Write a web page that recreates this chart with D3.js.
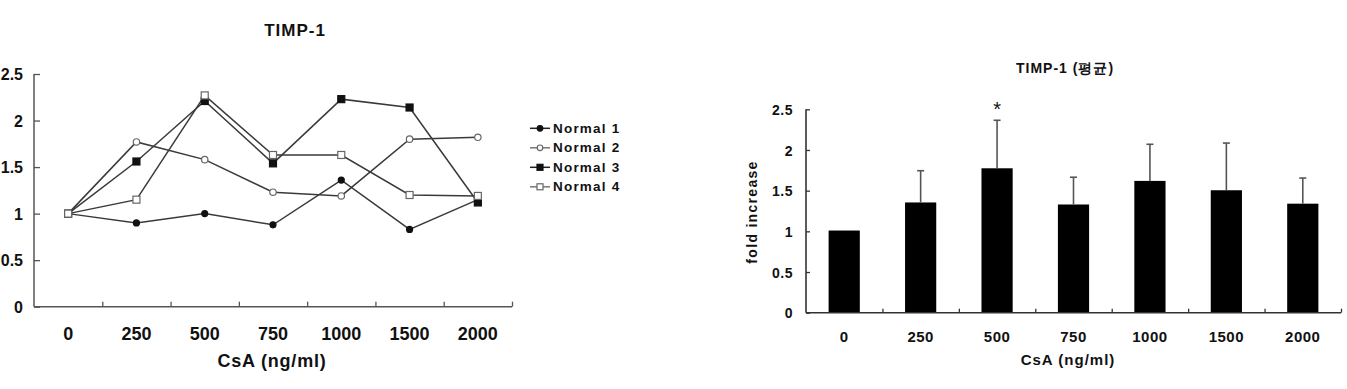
<!DOCTYPE html>
<html>
<head>
<meta charset="utf-8">
<script src="https://cdn.jsdelivr.net/npm/d3@7"></script>
<style>
  html, body { margin: 0; padding: 0; background: #fff; }
  svg { display: block; }
  text { font-family: "Liberation Sans", Arial, sans-serif; font-weight: bold; fill: #111; }
</style>
</head>
<body>
<svg id="chart" width="1347" height="389"></svg>
<script>
// ---- data ----
const categories = ["0", "250", "500", "750", "1000", "1500", "2000"];
const yTicks = [0, 0.5, 1, 1.5, 2, 2.5];
const seriesNames = ["Normal 1", "Normal 2", "Normal 3", "Normal 4"];
const normal1 = [1.0, 0.90, 1.0, 0.88, 1.36, 0.83, 1.15];
const normal2 = [1.0, 1.77, 1.58, 1.23, 1.19, 1.80, 1.82];
const normal3 = [1.0, 1.56, 2.21, 1.54, 2.23, 2.14, 1.12];
const normal4 = [1.0, 1.15, 2.27, 1.63, 1.63, 1.20, 1.19];
const meanValues = [1.01, 1.355, 1.775, 1.33, 1.62, 1.505, 1.34];
const meanErrors = [0, 0.39, 0.59, 0.335, 0.45, 0.58, 0.315];
const significant = [false, false, true, false, false, false, false];

const svg = d3.select("#chart");
const fmt = d => d3.format("")(d);

// ================= LEFT: line chart =================
(function () {
  const x0 = 34, x1 = 512, yTop = 74, yBot = 306.7;
  const x = d3.scaleBand().domain(categories).range([x0, x1]).padding(0);
  const xi = d3.scaleLinear().domain([0, categories.length]).range([x0, x1]);
  const y = d3.scaleLinear().domain([0, 2.5]).range([yBot, yTop]);
  const g = svg.append("g");

  // y axis
  const ya = g.append("g").attr("transform", `translate(${x0},0)`)
    .call(d3.axisLeft(y).tickValues(yTicks).tickSize(-6).tickPadding(11).tickFormat(fmt));
  ya.select(".domain").attr("stroke", "#555").attr("stroke-width", 1.5).attr("d", `M0,${yTop}H0V${yBot}`);
  ya.selectAll(".tick line").attr("stroke", "#555").attr("stroke-width", 1.3);
  ya.selectAll("text").style("font-size", "16px").attr("dy", "0.36em").attr("fill", "#111");

  // x axis (ticks at boundaries)
  const xa = g.append("g").attr("transform", `translate(0,${yBot})`)
    .call(d3.axisBottom(xi).tickValues(d3.range(1, categories.length + 1)).tickSize(-5).tickFormat(""));
  xa.select(".domain").attr("stroke", "#555").attr("stroke-width", 1.5).attr("d", `M${x0},0H${x1}`);
  xa.selectAll(".tick line").attr("stroke", "#555").attr("stroke-width", 1.3);

  // x labels
  g.selectAll(".xl").data(categories).join("text")
    .attr("x", d => x(d) + x.bandwidth() / 2).attr("y", 339.5)
    .attr("text-anchor", "middle").style("font-size", "18px").text(d => d);

  g.append("text").attr("x", 272).attr("y", 367).attr("text-anchor", "middle")
    .style("font-size", "18px").style("letter-spacing", "0.8px").text("CsA (ng/ml)");
  g.append("text").attr("x", 295).attr("y", 36).attr("text-anchor", "middle")
    .style("font-size", "17px").style("letter-spacing", "1px").text("TIMP-1");

  const data = [normal1, normal2, normal3, normal4];
  const markers = [
    { shape: "circle", fill: "#111", stroke: "#111", size: 3 },
    { shape: "circle", fill: "#fff", stroke: "#666", size: 3.2 },
    { shape: "square", fill: "#111", stroke: "#111", size: 7 },
    { shape: "square", fill: "#fff", stroke: "#666", size: 7 }
  ];
  const line = d3.line().x((d, i) => x(categories[i]) + x.bandwidth() / 2).y(d => y(d));

  data.forEach((vals, s) => {
    g.append("path").datum(vals).attr("d", line)
      .attr("fill", "none").attr("stroke", "#3a3a3a").attr("stroke-width", 1.5);
  });
  function drawMarker(sel, m, cx, cy) {
    if (m.shape === "circle") {
      sel.append("circle").attr("cx", cx).attr("cy", cy).attr("r", m.size)
        .attr("fill", m.fill).attr("stroke", m.stroke).attr("stroke-width", 1.2);
    } else {
      sel.append("rect").attr("x", cx - m.size / 2).attr("y", cy - m.size / 2)
        .attr("width", m.size).attr("height", m.size)
        .attr("fill", m.fill).attr("stroke", m.stroke).attr("stroke-width", 1.2);
    }
  }
  data.forEach((vals, s) => {
    vals.forEach((v, i) => drawMarker(g, markers[s], x(categories[i]) + x.bandwidth() / 2, y(v)));
  });

  // legend
  const lg = g.append("g");
  seriesNames.forEach((name, i) => {
    const ly = 128.3 + i * 19.5;
    lg.append("line").attr("x1", 530).attr("x2", 550).attr("y1", ly).attr("y2", ly)
      .attr("stroke", i % 2 ? "#777" : "#222").attr("stroke-width", 1.5);
    drawMarker(lg, Object.assign({}, markers[i], { size: markers[i].shape === "circle" ? 2.8 : 6 }), 540, ly);
    lg.append("text").attr("x", 553).attr("y", ly + 4.5)
      .style("font-size", "13.5px").style("letter-spacing", "1.2px").text(name);
  });
})();

// ================= RIGHT: bar chart =================
(function () {
  const x0 = 806, x1 = 1341, yTop = 109.3, yBot = 312.7;
  const xb = d3.scaleBand().domain(categories).range([x0, x1]).padding(0);
  const xi = d3.scaleLinear().domain([0, categories.length]).range([x0, x1]);
  const y = d3.scaleLinear().domain([0, 2.5]).range([yBot, yTop]);
  const g = svg.append("g");

  // bars
  g.selectAll(".bar").data(meanValues).join("rect")
    .attr("x", (d, i) => xb(categories[i]) + xb.bandwidth() / 2 - 15.6)
    .attr("width", 31.2)
    .attr("y", d => y(d)).attr("height", d => yBot - y(d))
    .attr("fill", "#000");

  // error bars
  meanValues.forEach((v, i) => {
    if (!meanErrors[i]) return;
    const cx = xb(categories[i]) + xb.bandwidth() / 2;
    g.append("line").attr("x1", cx).attr("x2", cx).attr("y1", y(v)).attr("y2", y(v + meanErrors[i]))
      .attr("stroke", "#555").attr("stroke-width", 1.6);
    g.append("line").attr("x1", cx - 3.5).attr("x2", cx + 3.5)
      .attr("y1", y(v + meanErrors[i])).attr("y2", y(v + meanErrors[i]))
      .attr("stroke", "#555").attr("stroke-width", 1.6);
  });

  // significance asterisk
  significant.forEach((s, i) => {
    if (!s) return;
    const cx = xb(categories[i]) + xb.bandwidth() / 2;
    g.append("text").attr("x", cx).attr("y", y(meanValues[i] + meanErrors[i]) - 4)
      .attr("text-anchor", "middle").style("font-size", "20px").style("font-weight", "normal")
      .attr("fill", "#444").text("*");
  });

  // y axis
  const ya = g.append("g").attr("transform", `translate(${x0},0)`)
    .call(d3.axisLeft(y).tickValues(yTicks).tickSize(-4).tickPadding(13).tickFormat(fmt));
  ya.select(".domain").attr("stroke", "#333").attr("stroke-width", 1.6).attr("d", `M0,${yTop}H0V${yBot}`);
  ya.selectAll(".tick line").attr("stroke", "#333").attr("stroke-width", 1.3);
  ya.selectAll("text").style("font-size", "14px").style("letter-spacing", "0.5px").attr("dy", "0.36em").attr("fill", "#111");

  // x axis
  const xa = g.append("g").attr("transform", `translate(0,${yBot})`)
    .call(d3.axisBottom(xi).tickValues(d3.range(1, categories.length + 1)).tickSize(-4).tickFormat(""));
  xa.select(".domain").attr("stroke", "#333").attr("stroke-width", 1.6).attr("d", `M${x0},0H${x1}`);
  xa.selectAll(".tick line").attr("stroke", "#333").attr("stroke-width", 1.3);

  g.selectAll(".xl").data(categories).join("text")
    .attr("x", d => xb(d) + xb.bandwidth() / 2).attr("y", 342)
    .attr("text-anchor", "middle").style("font-size", "15px").style("letter-spacing", "0.5px").text(d => d);

  g.append("text").attr("x", 1068).attr("y", 365).attr("text-anchor", "middle")
    .style("font-size", "15px").style("letter-spacing", "1px").text("CsA (ng/ml)");
  g.append("text").attr("x", 1065).attr("y", 73).attr("text-anchor", "middle")
    .style("font-size", "14px").style("letter-spacing", "1px").text("TIMP-1 (평균)");
  g.append("text").attr("transform", "translate(757,212) rotate(-90)").attr("text-anchor", "middle")
    .style("font-size", "14px").style("letter-spacing", "1.3px").text("fold increase");
})();
</script>
</body>
</html>
